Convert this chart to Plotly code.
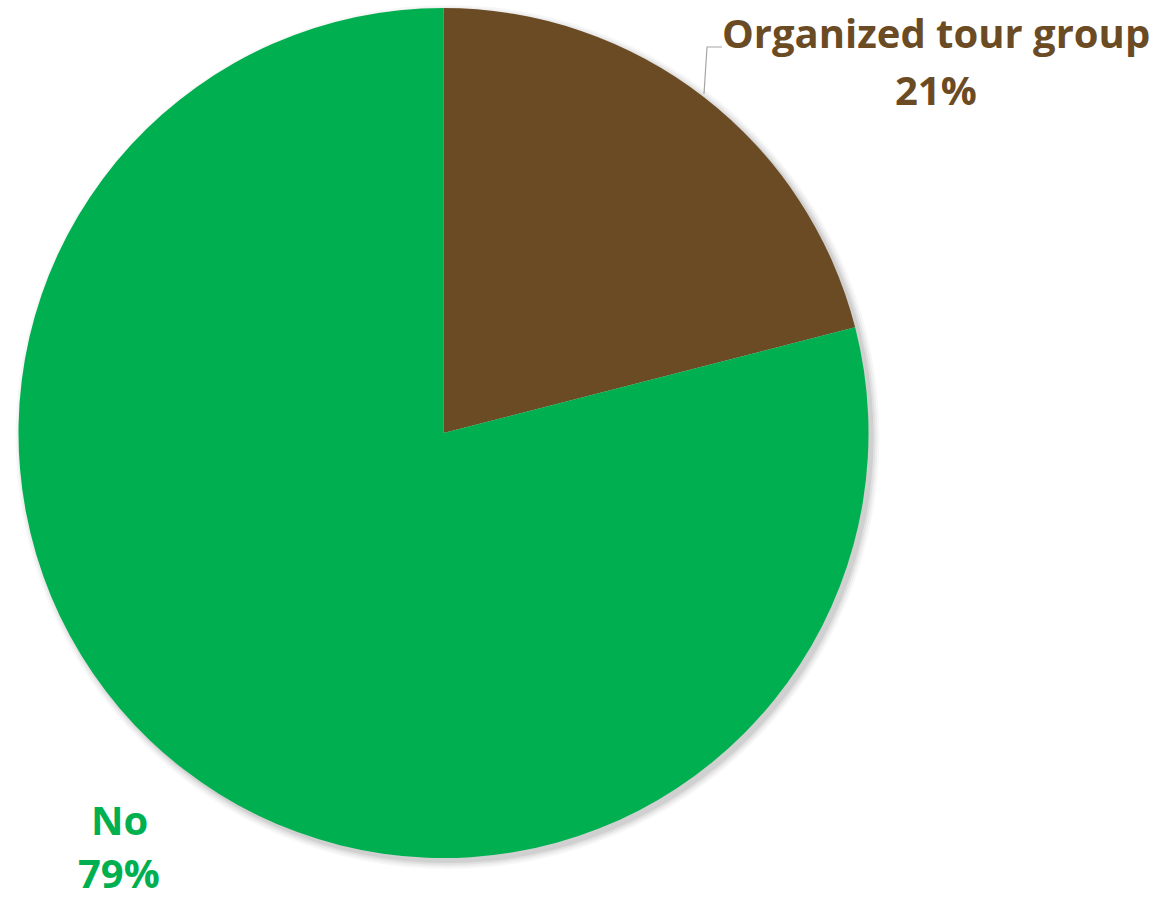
import plotly.graph_objects as go

labels = ["Organized tour group", "No"]
values = [21, 79]
colors = ["#6B4B24", "#00B050"]

W, H = 1156, 899
cx, cy, r = 443.5, 433.0, 425.0  # pie centre and radius in pixels


def px(x):
    return x / W


def py(y):
    return 1 - y / H


fig = go.Figure()
fig.add_trace(go.Pie(
    labels=labels,
    values=values,
    marker=dict(colors=colors, line=dict(width=0)),
    sort=False,
    direction="clockwise",
    rotation=0,
    textinfo="none",
    hoverinfo="label+percent",
    showlegend=False,
    domain=dict(x=[px(cx - r), px(cx + r)], y=[py(cy + r), py(cy - r)]),
))

# soft drop shadow behind the pie
shapes = []
for grow, alpha in [(7, 0.03), (5, 0.04), (3, 0.05), (1, 0.07)]:
    ox, oy = 4, 4
    rr = r + grow
    shapes.append(dict(
        type="circle", xref="paper", yref="paper", layer="below",
        x0=px(cx + ox - rr), x1=px(cx + ox + rr),
        y0=py(cy + oy + rr), y1=py(cy + oy - rr),
        fillcolor=f"rgba(0,0,0,{alpha})", line=dict(width=0),
    ))

# leader line to the outside label
shapes.append(dict(
    type="path", xref="paper", yref="paper",
    path=f"M {px(722)} {py(47)} L {px(707)} {py(47)} L {px(704)} {py(94)}",
    line=dict(color="#A6A6A6", width=1.2),
))

font_family = "'Open Sans', Lato, sans-serif"
pct = [f"{round(v / sum(values) * 100)}%" for v in values]
positions = [
    (936, 33, 90),    # Organized tour group
    (119, 819, 872),  # No
]
annotations = []
for lab, p, col, (x, y1, y2) in zip(labels, pct, colors, positions):
    annotations.append(dict(
        x=px(x), y=py(y1), xref="paper", yref="paper", text=f"<b>{lab}</b>",
        showarrow=False, xanchor="center", yanchor="middle", borderpad=0,
        font=dict(family=font_family, size=40, color=col),
    ))
    annotations.append(dict(
        x=px(x), y=py(y2), xref="paper", yref="paper", text=f"<b>{p}</b>",
        showarrow=False, xanchor="center", yanchor="middle", borderpad=0,
        font=dict(family=font_family, size=40, color=col),
    ))

fig.update_layout(
    width=W, height=H,
    margin=dict(l=0, r=0, t=0, b=0),
    paper_bgcolor="white",
    plot_bgcolor="white",
    shapes=shapes,
    annotations=annotations,
)

fig.write_html("out.html")
